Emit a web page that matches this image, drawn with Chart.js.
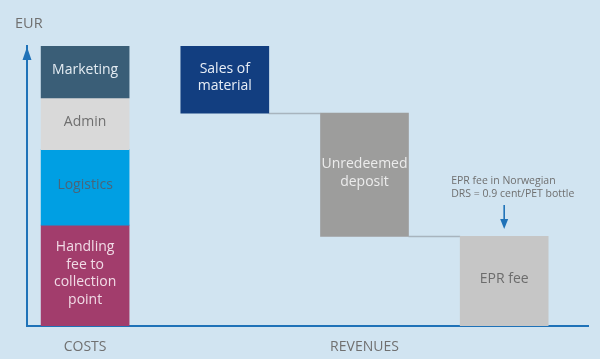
<!DOCTYPE html>
<html>
<head>
<meta charset="utf-8">
<script src="https://cdn.jsdelivr.net/npm/chart.js@4"></script>
<style>
  html, body { margin: 0; padding: 0; background: #d1e4f1; }
  #wrap { width: 600px; height: 359px; position: relative; }
</style>
</head>
<body>
<div id="wrap"><canvas id="drsChart"></canvas></div>
<script>
// cost blocks, bottom to top (share of total, %)
const costLabels = ['Handling\nfee to\ncollection\npoint', 'Logistics', 'Admin', 'Marketing'];
const costValues = [36, 27, 18.5, 18.5];

// revenue blocks, left to right (waterfall going down)
const revenueLabels = ['Sales of\nmaterial', 'Unredeemed\ndeposit', 'EPR fee'];
const revenueValues = [24, 44, 32];

const axisLabels = ['COSTS', 'REVENUES'];
const axisLabelPos = [0, 2];

const costColors = ['#a23d6c', '#009fe3', '#d9d9d9', '#3a5e77'];
const costTextColors = ['#f1dbe6', '#4a6579', '#6f6f6f', '#e4ecf2'];
const revenueColors = ['#123e80', '#9d9d9c', '#c6c6c6'];
const revenueTextColors = ['#e8eef6', '#ececec', '#6c6c6c'];

// build floating ranges
const bars = [];
let acc = 0;
costValues.forEach((v, i) => {
  bars.push({ x: 0, y: [acc, acc + v], label: costLabels[i], color: costColors[i], text: costTextColors[i] });
  acc += v;
});
let level = revenueValues.reduce((a, b) => a + b, 0);
revenueValues.forEach((v, i) => {
  bars.push({ x: i + 1, y: [level - v, level], label: revenueLabels[i], color: revenueColors[i], text: revenueTextColors[i] });
  level -= v;
});

const FONT = '"Open Sans", "DejaVu Sans", sans-serif';

const extras = {
  id: 'extras',
  beforeDatasetsDraw(chart) {
    const ctx = chart.ctx;
    const els = chart.getDatasetMeta(0).data;
    // connector lines between revenue steps
    ctx.save();
    ctx.strokeStyle = '#a8b4be';
    ctx.lineWidth = 1.5;
    for (let i = 4; i < 6; i++) {
      const a = els[i], b = els[i + 1];
      const y = Math.round(a.base) + 0.5;
      ctx.beginPath();
      ctx.moveTo(a.x + a.width / 2, y);
      ctx.lineTo(b.x - b.width / 2, y);
      ctx.stroke();
    }
    ctx.restore();
  },
  afterDatasetsDraw(chart) {
    const ctx = chart.ctx;
    const area = chart.chartArea;
    const els = chart.getDatasetMeta(0).data;
    ctx.save();
    // labels in the blocks
    ctx.textAlign = 'center';
    ctx.textBaseline = 'middle';
    ctx.font = '14px ' + FONT;
    els.forEach((el, i) => {
      const lines = bars[i].label.split('\n');
      const lh = 17.5;
      const cy = (el.y + el.base) / 2 - 2;
      ctx.fillStyle = bars[i].text;
      lines.forEach((ln, j) => {
        ctx.fillText(ln, el.x, cy + (j - (lines.length - 1) / 2) * lh);
      });
    });

    // y axis arrow head
    const ax = area.left;
    ctx.fillStyle = '#1f72b8';
    ctx.beginPath();
    ctx.moveTo(ax, area.top + 1);
    ctx.lineTo(ax - 4.5, area.top + 14);
    ctx.lineTo(ax + 4.5, area.top + 14);
    ctx.closePath();
    ctx.fill();

    // EUR
    ctx.fillStyle = '#707070';
    ctx.font = '14.5px ' + FONT;
    ctx.textAlign = 'left';
    ctx.fillText('EUR', 15, 24);

    // EPR note + arrow
    const epr = els[6];
    ctx.font = '10.5px ' + FONT;
    ctx.fillStyle = '#6f6f6f';
    ctx.fillText('EPR fee in Norwegian', epr.x - 53, 181);
    ctx.fillText('DRS = 0.9 cent/PET bottle', epr.x - 53, 194);
    ctx.strokeStyle = '#1f72b8';
    ctx.fillStyle = '#1f72b8';
    ctx.lineWidth = 1.6;
    ctx.beginPath();
    ctx.moveTo(epr.x, 205);
    ctx.lineTo(epr.x, 222);
    ctx.stroke();
    ctx.beginPath();
    ctx.moveTo(epr.x, 229);
    ctx.lineTo(epr.x - 4, 219);
    ctx.lineTo(epr.x + 4, 219);
    ctx.closePath();
    ctx.fill();
    ctx.restore();
  }
};

new Chart(document.getElementById('drsChart'), {
  type: 'bar',
  data: {
    datasets: [{
      data: bars.map(b => ({ x: b.x, y: b.y })),
      backgroundColor: bars.map(b => b.color),
      borderWidth: 0,
      barThickness: 88,
      borderSkipped: false
    }]
  },
  options: {
    responsive: true,
    maintainAspectRatio: false,
    animation: false,
    layout: { padding: { left: 27, right: 12, top: 46, bottom: 0 } },
    plugins: {
      legend: { display: false },
      tooltip: { enabled: false }
    },
    scales: {
      x: {
        type: 'linear',
        offset: false,
        min: -0.416,
        max: 3.6,
        grid: { display: false, drawTicks: false },
        border: { display: true, color: '#1f72b8', width: 2 },
        afterBuildTicks: (scale) => { scale.ticks = axisLabelPos.map(v => ({ value: v })); },
        afterFit: (scale) => { scale.height = 33; },
        ticks: {
          autoSkip: false,
          padding: 13,
          color: '#707070',
          font: { family: FONT, size: 14 },
          callback: (v) => axisLabels[axisLabelPos.indexOf(v)] || ''
        }
      },
      y: {
        min: 0,
        max: 100,
        grid: { display: false, drawTicks: false },
        border: { display: true, color: '#1f72b8', width: 2 },
        ticks: { display: false }
      }
    }
  },
  plugins: [extras]
});
</script>
</body>
</html>
